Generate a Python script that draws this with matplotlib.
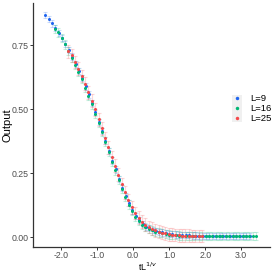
import matplotlib
matplotlib.use("Agg")
import matplotlib.pyplot as plt
from matplotlib.patches import Rectangle

plt.rcParams["font.family"] = ["Liberation Sans", "DejaVu Sans"]

labels = ["L=9", "L=16", "L=25"]
colors = ["#1F65F0", "#00B774", "#F5484B"]

x_L9 = [-2.44,-2.35,-2.25,-2.16,-2.07,-1.98,-1.88,-1.79,-1.70,-1.60,
        -1.51,-1.42,-1.32,-1.23,-1.14,-1.05,-0.95,-0.86,-0.77,-0.67,
        -0.58,-0.49,-0.39,-0.30,-0.21,-0.12,-0.02,0.07,0.16,0.26,
        0.35,0.44,0.54,0.63,0.72,0.81,0.91,1.00,1.09,1.19,
        1.28,1.37,1.47,1.56,1.65,1.75,1.84,1.93,2.03,2.12,
        2.21,2.30,2.40,2.49,2.58,2.68,2.77,2.86,2.96,3.05,3.14,3.24]
y_L9 = [0.867,0.852,0.834,0.817,0.798,0.778,0.753,0.729,0.705,0.677,
        0.650,0.621,0.588,0.557,0.524,0.490,0.450,0.414,0.377,0.336,
        0.299,0.264,0.226,0.193,0.161,0.132,0.104,0.083,0.066,0.051,
        0.041,0.034,0.028,0.024,0.020,0.018,0.015,0.013,0.012,0.010,
        0.009,0.008,0.007,0.007,0.006,0.006,0.005,0.005,0.005,0.005,
        0.004,0.004,0.004,0.004,0.004,0.004,0.003,0.003,0.003,0.003,0.003,0.003]

x_L16 = [-2.17,-2.08,-1.98,-1.89,-1.80,-1.71,-1.61,-1.52,-1.43,-1.33,
         -1.24,-1.15,-1.05,-0.96,-0.87,-0.78,-0.68,-0.59,-0.50,-0.40,
         -0.31,-0.22,-0.12,-0.03,0.06,0.15,0.25,0.34,0.43,0.53,
         0.62,0.71,0.80,0.90,0.99,1.08,1.18,1.27,1.36,1.46,
         1.55,1.64,1.73,1.83,1.92,2.01,2.11,2.20,2.29,2.39,
         2.48,2.57,2.67,2.76,2.85,2.94,3.04,3.13,3.22,3.32,3.41]
y_L16 = [0.811,0.799,0.776,0.752,0.728,0.700,0.672,0.644,0.616,0.583,
         0.552,0.518,0.482,0.446,0.410,0.373,0.333,0.295,0.260,0.222,
         0.188,0.157,0.127,0.101,0.080,0.063,0.048,0.039,0.032,0.026,
         0.021,0.018,0.015,0.012,0.010,0.008,0.007,0.006,0.005,0.005,
         0.004,0.004,0.004,0.003,0.003,0.003,0.003,0.003,0.003,0.003,
         0.003,0.003,0.003,0.003,0.003,0.003,0.003,0.003,0.003,0.003,0.003]

x_L25 = [-1.80,-1.71,-1.61,-1.52,-1.43,-1.34,-1.24,-1.15,-1.06,-0.96,
         -0.87,-0.78,-0.69,-0.59,-0.50,-0.41,-0.31,-0.22,-0.13,-0.04,
         0.06,0.15,0.24,0.34,0.43,0.52,0.61,0.71,0.80,0.89,
         0.99,1.08,1.17,1.26,1.36,1.45,1.54,1.64,1.73,1.82,1.92]
y_L25 = [0.725,0.710,0.684,0.657,0.629,0.599,0.566,0.533,0.499,0.460,
         0.424,0.387,0.350,0.313,0.278,0.244,0.207,0.175,0.145,0.117,
         0.094,0.075,0.060,0.048,0.039,0.032,0.026,0.021,0.017,0.014,
         0.011,0.009,0.008,0.007,0.006,0.005,0.005,0.004,0.004,0.004,0.004]

err = [0.012, 0.016, 0.025]

xticks = [-2, -1, 0, 1, 2, 3]
xticklabels = ["-2.0", "-1.0", "0.0", "1.0", "2.0", "3.0"]
yticks = [0, 0.25, 0.5, 0.75]
yticklabels = ["0.00", "0.25", "0.50", "0.75"]

fig = plt.figure(figsize=(2.73, 2.73), dpi=100)
ax = fig.add_axes([0.121, 0.095, 0.868, 0.894])

series = [(x_L9, y_L9), (x_L16, y_L16), (x_L25, y_L25)]
for (xs, ys), lab, c, e in zip(series, labels, colors, err):
    ax.errorbar(xs, ys, yerr=e, fmt="none", ecolor=c, alpha=0.22,
                elinewidth=0.8, capsize=1.5, capthick=0.8)
for (xs, ys), lab, c in zip(series, labels, colors):
    ax.plot(xs, ys, "o", color=c, markersize=2.2, markeredgewidth=0, label=lab)

ax.set_xlim(-2.78, 3.8)
ax.set_ylim(-0.039, 0.914)
ax.set_xticks(xticks)
ax.set_xticklabels(xticklabels)
ax.set_yticks(yticks)
ax.set_yticklabels(yticklabels)
for s in ["top", "right"]:
    ax.spines[s].set_visible(False)
for s in ["left", "bottom"]:
    ax.spines[s].set_color("#333333")
    ax.spines[s].set_linewidth(0.9)
ax.tick_params(axis="both", labelsize=6.3, labelcolor="#4D4D4D", colors="#333333",
               length=2.0, width=0.7, pad=1.0)
ax.set_ylabel("Output", fontsize=8.0)
ax.yaxis.set_label_coords(-0.086, 0.5)
ax.set_xlabel(r"tL$^{1/v}$", fontsize=6.5)
ax.xaxis.set_label_coords(0.485, -0.055)

# legend key background (light grey, ggplot-like)
ax.add_patch(Rectangle((0.84, 0.512), 0.042, 0.111, transform=ax.transAxes,
                       facecolor="#F0F0F0", edgecolor="none", zorder=0.5))

leg = ax.legend(loc="center left", bbox_to_anchor=(0.815, 0.567), frameon=False,
                fontsize=6.8, handlelength=0.9, handletextpad=0.9, labelspacing=0.1,
                markerscale=1.0, borderpad=0.2)
for h in leg.legend_handles:
    h.set_markersize(2.5)

fig.savefig("out.png", dpi=100)
